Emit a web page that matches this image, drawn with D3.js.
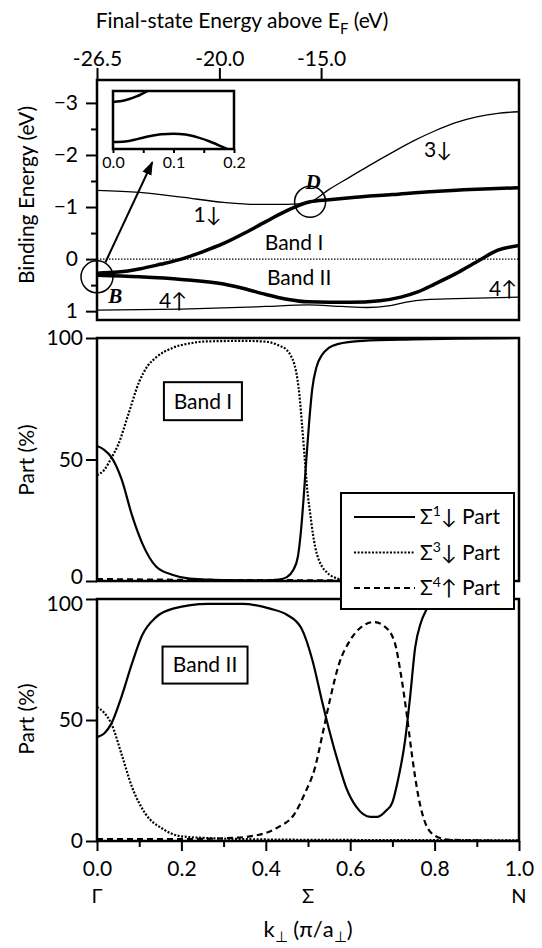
<!DOCTYPE html>
<html>
<head>
<meta charset="utf-8">
<script src="https://d3js.org/d3.v7.min.js"></script>
<style>
body { margin: 0; background: #fff; }
svg { font-family: Lato, "Open Sans", sans-serif; }
.frame { fill: none; stroke: #000; stroke-width: 2.5px; }
.axis path { display: none; }
.axis line { stroke: #000; stroke-width: 2px; }
.axis text { font-family: Lato, "Open Sans", sans-serif; font-size: 21px; fill: #000; }
.thin { fill: none; stroke: #000; stroke-width: 1.3px; }
.thick { fill: none; stroke: #000; stroke-width: 3.5px; }
.s1 { fill: none; stroke: #000; stroke-width: 2.2px; }
.s3 { fill: none; stroke: #000; stroke-width: 2.2px; stroke-dasharray: 2,1.6; }
.s4 { fill: none; stroke: #000; stroke-width: 2.2px; stroke-dasharray: 6,4; }
.lbl { font-size: 21px; }
</style>
</head>
<body>
<script>
// ---- data ----
var energyTicks = [-3, -2, -1, 0, 1];
var energyMinor = [-2.5, -1.5, -0.5, 0.5];
var partTicks = [0, 50, 100];
var kTicks = [0, 0.2, 0.4, 0.6, 0.8, 1.0];
var kMinor = [0.1, 0.3, 0.5, 0.7, 0.9];
var topTickK = [0, 0.29, 0.531];
var topTickLabels = ["-26.5", "-20.0", "-15.0"];
var pointLabels = ["\u0393", "\u03A3", "N"];
var pointK = [0, 0.5, 1];
var insetTicks = [0, 0.1, 0.2];
var insetMinor = [0.05, 0.15];

// binding energy (eV) vs k
var thin1 = [[0,-1.32],[0.1,-1.28],[0.2,-1.19],[0.3,-1.09],[0.38,-1.05],[0.45,-1.05],[0.505,-1.10],
  [0.55,-1.34],[0.6,-1.58],[0.65,-1.82],[0.7,-2.05],[0.75,-2.27],[0.8,-2.46],[0.85,-2.62],[0.9,-2.73],[0.95,-2.80],[1.0,-2.83]];
var band1 = [[0,0.27],[0.05,0.25],[0.1,0.19],[0.15,0.10],[0.2,0.0],[0.25,-0.14],[0.3,-0.30],[0.35,-0.50],
  [0.4,-0.72],[0.45,-0.93],[0.505,-1.10],[0.55,-1.14],[0.6,-1.18],[0.7,-1.24],[0.8,-1.30],[0.9,-1.34],[1.0,-1.37]];
var band2 = [[0,0.31],[0.1,0.34],[0.2,0.39],[0.3,0.48],[0.35,0.57],[0.4,0.68],[0.45,0.77],[0.5,0.82],
  [0.6,0.83],[0.67,0.80],[0.72,0.73],[0.76,0.63],[0.8,0.48],[0.85,0.28],[0.9,0.05],[0.95,-0.17],[1.0,-0.26]];
var thin4 = [[0,0.98],[0.2,0.96],[0.4,0.91],[0.5,0.88],[0.58,0.91],[0.64,0.93],[0.69,0.9],[0.73,0.83],
  [0.78,0.78],[0.85,0.76],[1.0,0.73]];
var fermi = [[0,0],[1,0]];

// inset (zoom near k = 0)
var insetUpper = [[0,0.269],[0.02,0.266],[0.04,0.259],[0.055,0.251],[0.065,0.245]];
var insetLower = [[0,0.338],[0.02,0.337],[0.04,0.333],[0.06,0.328],[0.08,0.3245],[0.1,0.3235],
  [0.12,0.325],[0.14,0.330],[0.16,0.337],[0.18,0.346],[0.195,0.353]];

// Band I parts (%)
var b1s1 = [[0,55.6],[0.017,54],[0.034,51],[0.058,42],[0.083,27],[0.107,15.6],[0.14,6],[0.18,2.5],[0.22,1],
  [0.3,0.4],[0.4,0.3],[0.43,0.6],[0.45,1.6],[0.465,4.5],[0.476,10],[0.483,20],[0.49,35],[0.496,50],
  [0.503,66],[0.51,79],[0.52,88],[0.533,93],[0.55,96],[0.57,97.5],[0.63,98.8],[0.75,99.4],[0.85,99.7],[1,100]];
var b1s3 = [[0,43.6],[0.017,45.7],[0.034,50.6],[0.05,56],[0.075,69],[0.1,82],[0.12,88.5],[0.14,92],[0.18,96],
  [0.22,97.8],[0.26,98.6],[0.35,98.8],[0.4,98.5],[0.43,97],[0.45,95],[0.46,92.5],[0.468,89],[0.475,83],
  [0.48,76],[0.486,64],[0.492,51],[0.498,38],[0.505,28],[0.512,19],[0.517,14],[0.525,9],[0.533,6],
  [0.545,3.5],[0.558,1.8],[0.59,0.5],[0.65,0.2],[1,0]];
var b1s4 = [[0,0.8],[0.2,0.5],[0.5,0.3],[1,0]];

// Band II parts (%)
var b2s1 = [[0,42.9],[0.017,44.4],[0.034,48.5],[0.058,59.6],[0.083,73.4],[0.107,85],[0.14,92.5],[0.18,96],
  [0.263,98],[0.345,98],[0.41,96],[0.45,93.5],[0.484,88],[0.51,75],[0.533,58],[0.55,46],[0.574,31],
  [0.59,22.3],[0.615,14],[0.648,10],[0.665,10],[0.685,12.5],[0.7,16],[0.713,25],[0.73,41.5],[0.742,59.6],
  [0.754,80],[0.767,90],[0.779,95],[0.79,98],[0.803,99.6],[0.85,100],[1,100]];
var b2s3 = [[0,55.3],[0.017,53],[0.034,48.5],[0.058,36],[0.083,22.3],[0.115,11.2],[0.156,5],[0.197,2],
  [0.263,1.2],[0.345,0.8],[0.5,0.5],[1,0.3]];
var b2s4 = [[0,0.8],[0.2,0.8],[0.3,1.1],[0.37,2.1],[0.427,5.5],[0.468,11.2],[0.492,19.5],[0.517,30.6],
  [0.533,43],[0.55,56.8],[0.574,73.4],[0.6,83],[0.63,88.9],[0.656,90.5],[0.68,88.9],[0.705,82.3],[0.72,69],
  [0.734,52.3],[0.746,36],[0.762,18],[0.779,7],[0.803,2],[0.836,0.5],[1,0]];

var legendSup = ["1", "3", "4"];
var legendSpin = ["\u2193", "\u2193", "\u2191"];
var legendClass = ["s1", "s3", "s4"];

// ---- layout ----
var W = 542, H = 948;
var x = d3.scaleLinear().domain([0, 1]).range([97, 519]);
var yE = d3.scaleLinear().domain([-3.44, 1.17]).range([80, 320]);
var yP1 = d3.scaleLinear().domain([0, 100]).range([581, 338]);
var yP2 = d3.scaleLinear().domain([0, 100]).range([841, 599]);

var svg = d3.select("body").append("svg")
  .attr("width", W).attr("height", H);

var defs = svg.append("defs");
[["cTop", yE], ["cMid", yP1], ["cBot", yP2]].forEach(function(c) {
  var r = c[1].range();
  defs.append("clipPath").attr("id", c[0]).append("rect")
    .attr("x", x(0)).attr("y", Math.min(r[0], r[1]))
    .attr("width", x(1) - x(0)).attr("height", Math.abs(r[0] - r[1]));
});
defs.append("marker").attr("id", "arrow")
  .attr("viewBox", "0 0 10 10").attr("refX", 9).attr("refY", 5)
  .attr("markerWidth", 7).attr("markerHeight", 7).attr("markerUnits", "strokeWidth")
  .attr("orient", "auto")
  .append("path").attr("d", "M0,1.5L10,5L0,8.5Z").attr("fill", "#000");

function lineOf(ys) {
  return d3.line().curve(d3.curveMonotoneX)
    .x(function(d) { return x(d[0]); })
    .y(function(d) { return ys(d[1]); });
}

// ===== top panel: bands =====
var gTop = svg.append("g").attr("clip-path", "url(#cTop)");
var lE = lineOf(yE);
gTop.append("path").attr("d", lE(fermi)).attr("fill", "none")
  .attr("stroke", "#000").attr("stroke-width", 1.2).attr("stroke-dasharray", "1.5,1.5");
gTop.append("path").attr("class", "thin").attr("d", lE(thin1));
gTop.append("path").attr("class", "thin").attr("d", lE(thin4));
gTop.append("path").attr("class", "thick").attr("d", lE(band1));
gTop.append("path").attr("class", "thick").attr("d", lE(band2));

svg.append("circle").attr("cx", x(0)).attr("cy", yE(0.34)).attr("r", 16)
  .attr("fill", "none").attr("stroke", "#000").attr("stroke-width", 1.5);
svg.append("circle").attr("cx", x(0.505)).attr("cy", yE(-1.10)).attr("r", 15.5)
  .attr("fill", "none").attr("stroke", "#000").attr("stroke-width", 1.5);

svg.append("line")
  .attr("x1", x(0.02)).attr("y1", yE(0.06))
  .attr("x2", x(0.131)).attr("y2", yE(-1.86))
  .attr("stroke", "#000").attr("stroke-width", 2).attr("marker-end", "url(#arrow)");

var bandLabels = [
  ["3\u2193", 0.808, -2.10], ["1\u2193", 0.262, -0.85], ["Band I", 0.467, -0.31],
  ["Band II", 0.479, 0.36], ["4\u2191", 0.18, 0.80], ["4\u2191", 0.962, 0.57]
];
svg.selectAll(".bl").data(bandLabels).enter().append("text")
  .attr("class", "lbl")
  .attr("x", function(d) { return x(d[1]); })
  .attr("y", function(d) { return yE(d[2]); })
  .attr("dy", "0.35em").attr("text-anchor", "middle")
  .text(function(d) { return d[0]; });

svg.append("text").attr("x", x(0.043)).attr("y", yE(0.85))
  .attr("font-family", "'Liberation Serif', serif").attr("font-weight", "bold")
  .attr("font-style", "italic").attr("font-size", 21).attr("text-anchor", "middle").text("B");
svg.append("text").attr("x", x(0.512)).attr("y", yE(-1.34))
  .attr("font-family", "'Liberation Serif', serif").attr("font-weight", "bold")
  .attr("font-style", "italic").attr("font-size", 21).attr("text-anchor", "middle").text("D");

// inset
var ix = d3.scaleLinear().domain([0, 0.2]).range([113, 234]);
var iy = d3.scaleLinear().domain([0.25, 0.35]).range([91, 149]);
defs.append("clipPath").attr("id", "cIn").append("rect")
  .attr("x", 113).attr("y", 91).attr("width", 121).attr("height", 58);
var gIn = svg.append("g");
gIn.append("rect").attr("x", 113).attr("y", 91).attr("width", 121).attr("height", 58)
  .attr("fill", "#fff");
var lIn = d3.line().curve(d3.curveMonotoneX)
  .x(function(d) { return ix(d[0]); }).y(function(d) { return iy(d[1]); });
var gInC = gIn.append("g").attr("clip-path", "url(#cIn)");
gInC.append("path").attr("d", lIn(insetUpper)).attr("fill", "none").attr("stroke", "#000").attr("stroke-width", 2.5);
gInC.append("path").attr("d", lIn(insetLower)).attr("fill", "none").attr("stroke", "#000").attr("stroke-width", 2.5);
gIn.append("rect").attr("class", "frame").attr("x", 113).attr("y", 91).attr("width", 121).attr("height", 58);
var inAx = gIn.append("g").attr("class", "axis").attr("transform", "translate(0,149)")
  .call(d3.axisBottom(ix).tickValues(insetTicks).tickFormat(d3.format(".1f")).tickSize(4).tickPadding(4));
inAx.selectAll("text").style("font-size", "16px");
gIn.append("g").attr("class", "axis").attr("transform", "translate(0,149)")
  .call(d3.axisBottom(ix).tickValues(insetMinor).tickFormat("").tickSize(4));

// ===== middle panel: Band I parts =====
var gMid = svg.append("g").attr("clip-path", "url(#cMid)");
var lP1 = lineOf(yP1);
gMid.append("path").attr("class", "s4").attr("d", lP1(b1s4));
gMid.append("path").attr("class", "s3").attr("d", lP1(b1s3));
gMid.append("path").attr("class", "s1").attr("d", lP1(b1s1));

// ===== bottom panel: Band II parts =====
var gBot = svg.append("g").attr("clip-path", "url(#cBot)");
var lP2 = lineOf(yP2);
gBot.append("path").attr("class", "s4").attr("d", lP2(b2s4));
gBot.append("path").attr("class", "s3").attr("d", lP2(b2s3));
gBot.append("path").attr("class", "s1").attr("d", lP2(b2s1));

// band name boxes
function bandBox(cx, cy, w, h, txt) {
  svg.append("rect").attr("x", cx - w / 2).attr("y", cy - h / 2).attr("width", w).attr("height", h)
    .attr("fill", "#fff").attr("stroke", "#000").attr("stroke-width", 2);
  svg.append("text").attr("class", "lbl").attr("x", cx).attr("y", cy).attr("dy", "0.35em")
    .attr("text-anchor", "middle").text(txt);
}
bandBox(x(0.251), yP1(74), 78, 38, "Band I");
bandBox(x(0.256), yP2(72.7), 85, 37, "Band II");

// ===== frames and axes =====
[yE, yP1, yP2].forEach(function(s) {
  var r = s.range();
  svg.append("rect").attr("class", "frame")
    .attr("x", x(0)).attr("y", Math.min(r[0], r[1]))
    .attr("width", x(1) - x(0)).attr("height", Math.abs(r[0] - r[1]));
});

svg.append("g").attr("class", "axis").attr("transform", "translate(" + x(0) + ",0)")
  .call(d3.axisLeft(yE).tickValues(energyTicks).tickFormat(d3.format("d")).tickSize(11).tickPadding(8));
svg.append("g").attr("class", "axis").attr("transform", "translate(" + x(0) + ",0)")
  .call(d3.axisLeft(yE).tickValues(energyMinor).tickFormat("").tickSize(6));
var midAx = svg.append("g").attr("class", "axis").attr("transform", "translate(" + x(0) + ",0)")
  .call(d3.axisLeft(yP1).tickValues(partTicks).tickSize(11).tickPadding(3));
midAx.selectAll("text").filter(function(d) { return d === 0; }).attr("dy", "0.1em");
var botAx = svg.append("g").attr("class", "axis").attr("transform", "translate(" + x(0) + ",0)")
  .call(d3.axisLeft(yP2).tickValues(partTicks).tickSize(11).tickPadding(3));
botAx.selectAll("text").filter(function(d) { return d === 100; }).attr("dy", "0.55em");

svg.append("g").attr("class", "axis").attr("transform", "translate(0," + yE.range()[0] + ")")
  .call(d3.axisTop(x).tickValues(topTickK).tickFormat(function(d, i) { return topTickLabels[i]; })
    .tickSize(12).tickPadding(2));

svg.append("g").attr("class", "axis").attr("transform", "translate(0," + yP2.range()[0] + ")")
  .call(d3.axisBottom(x).tickValues(kTicks).tickFormat(d3.format(".1f")).tickSize(10).tickPadding(10));
svg.append("g").attr("class", "axis").attr("transform", "translate(0," + yP2.range()[0] + ")")
  .call(d3.axisBottom(x).tickValues(kMinor).tickFormat("").tickSize(6));

svg.selectAll(".pt").data(pointK).enter().append("text")
  .attr("x", function(d) { return x(d); }).attr("y", 903)
  .attr("text-anchor", "middle").attr("font-size", 20)
  .text(function(d, i) { return pointLabels[i]; });

// axis titles
var tt = svg.append("text").attr("x", 242).attr("y", 28).attr("text-anchor", "middle").attr("font-size", 21);
tt.append("tspan").text("Final-state Energy above E");
tt.append("tspan").attr("dy", 6).attr("font-size", 15).text("F");
tt.append("tspan").attr("dy", -6).text(" (eV)");

var xt = svg.append("text").attr("x", 308).attr("y", 937).attr("text-anchor", "middle").attr("font-size", 22);
xt.append("tspan").text("k");
xt.append("tspan").attr("dy", 5).attr("font-size", 15).text("\u22A5");
xt.append("tspan").attr("dy", -5).text(" (\u03C0/a");
xt.append("tspan").attr("dy", 5).attr("font-size", 15).text("\u22A5");
xt.append("tspan").attr("dy", -5).text(")");

function yTitle(cy, txt) {
  svg.append("text").attr("transform", "translate(27," + cy + ") rotate(-90)")
    .attr("dy", "0.35em").attr("text-anchor", "middle").attr("font-size", 21).text(txt);
}
yTitle(195, "Binding Energy (eV)");
yTitle(460, "Part (%)");
yTitle(719, "Part (%)");

// legend
var lg = svg.append("g");
lg.append("rect").attr("x", 341).attr("y", 493).attr("width", 173).attr("height", 116)
  .attr("fill", "#fff").attr("stroke", "#000").attr("stroke-width", 2);
var rows = lg.selectAll(".row").data(legendSup).enter().append("g")
  .attr("transform", function(d, i) { return "translate(0," + (517 + i * 35.5) + ")"; });
rows.append("line").attr("class", function(d, i) { return legendClass[i]; })
  .attr("x1", 354).attr("x2", 415).attr("y1", 0).attr("y2", 0);
var rt = rows.append("text").attr("x", 420).attr("dy", "0.35em").attr("font-size", 21);
rt.append("tspan").text("\u03A3");
rt.append("tspan").attr("dy", -8).attr("font-size", 14).text(function(d) { return d; });
rt.append("tspan").attr("dy", 8).text(function(d, i) { return legendSpin[i] + " Part"; });
</script>
</body>
</html>
